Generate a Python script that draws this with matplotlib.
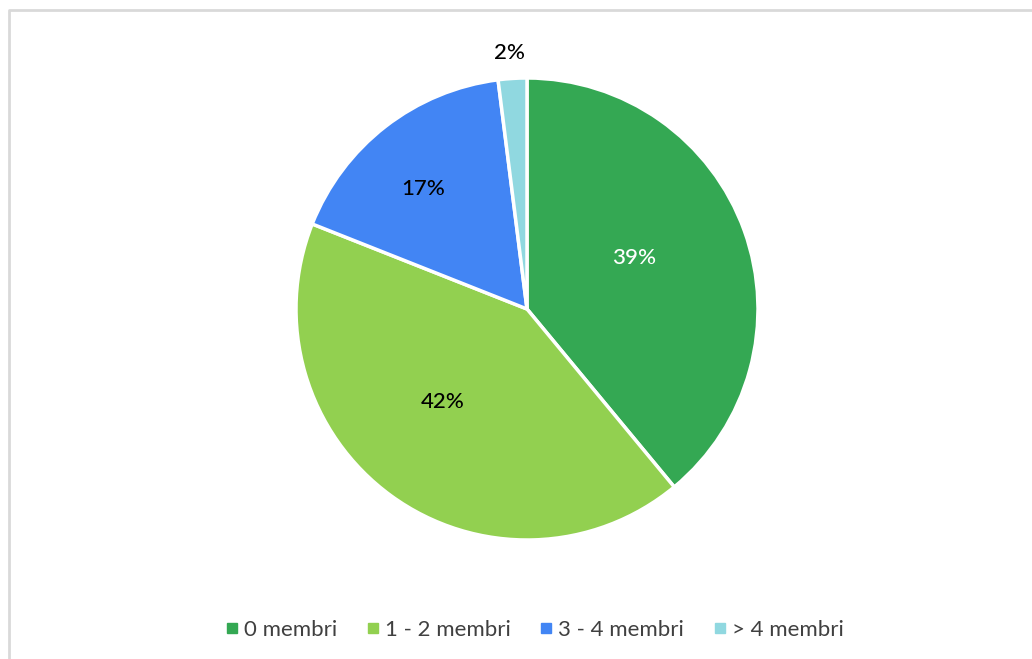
import numpy as np
import matplotlib.pyplot as plt
from matplotlib.lines import Line2D

labels = ['0 membri', '1 - 2 membri', '3 - 4 membri', '> 4 membri']
values = [39, 42, 17, 2]
colors = ['#34A853', '#92D050', '#4285F4', '#90D8E0']
text_colors = ['white', 'black', 'black', 'black']
# label placement: radius as fraction of R, position along the wedge (0..1)
label_r = [0.513, 0.543, 0.684, 1.111]
label_t = [0.46, 0.54, 0.45, 0.47]

plt.rcParams['font.family'] = ['Lato', 'DejaVu Sans']

W, H = 1032, 659
fig = plt.figure(figsize=(W / 100, H / 100), dpi=100)
ax = fig.add_axes([0, 0, 1, 1])

cx, cy, R = 527, H - 309, 231
wedges, _ = ax.pie(values, colors=colors, startangle=90, counterclock=False,
                   center=(cx, cy), radius=R, frame=True,
                   wedgeprops=dict(edgecolor='white', linewidth=2.5))
ax.set_xlim(0, W)
ax.set_ylim(0, H)
ax.set_aspect('equal')
ax.axis('off')

# wedges run clockwise from 12 o'clock
total = float(sum(values))
start = 90.0
for v, c, r, t in zip(values, text_colors, label_r, label_t):
    sweep = 360.0 * v / total
    ang = np.deg2rad(start - t * sweep)
    start -= sweep
    x = cx + r * R * np.cos(ang)
    y = cy + r * R * np.sin(ang)
    ax.text(x, y, f'{v}%', ha='center', va='center', fontsize=16,
            color=c, fontweight='medium')

# chart frame
ax.add_line(Line2D([9, 9, W], [0, H - 10, H - 10], color='#d9d9d9', lw=2))

handles = [Line2D([], [], marker='s', linestyle='none', markersize=6.5,
                  markerfacecolor=c, markeredgecolor=c) for c in colors]
leg = fig.legend(handles, labels, loc='center', bbox_to_anchor=(534 / W, 29 / H),
                 ncol=4, frameon=False, fontsize=16, handletextpad=0.19,
                 columnspacing=1.25, handlelength=0.7)
for t in leg.get_texts():
    t.set_color('#404040')

fig.savefig('out.png', dpi=100)
